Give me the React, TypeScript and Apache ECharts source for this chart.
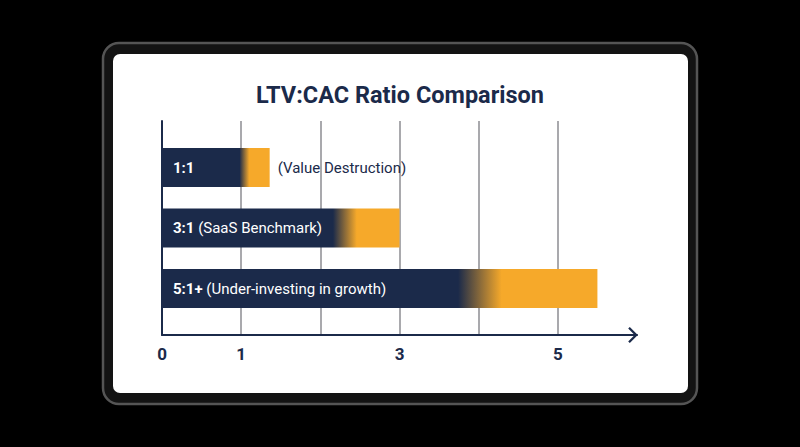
import React, { useEffect, useRef } from "react";
import * as echarts from "echarts";

const categories = ["1:1", "3:1", "5:1+"];
const ratioValues = [1.36, 3, 5.5];
const notes = ["(Value Destruction)", "(SaaS Benchmark)", "(Under-investing in growth)"];
const noteOutside = [true, false, false];
const tickLabels = ["0", "1", "", "3", "", "5", ""];

const NAVY = "#1b2a4a";
const ORANGE = "#f6a92a";
const blendStops = [
  [0.72, 0.81],
  [0.72, 0.82],
  [0.68, 0.78],
];

export default function App() {
  const ref = useRef<HTMLDivElement>(null);
  useEffect(() => {
    if (!ref.current) return;
    const chart = echarts.init(ref.current, null, { renderer: "svg" });
    const barData = ratioValues.map((v, i) => ({
      value: v,
      itemStyle: {
        color: new echarts.graphic.LinearGradient(0, 0, 1, 0, [
          { offset: 0, color: NAVY },
          { offset: blendStops[i][0], color: NAVY },
          { offset: blendStops[i][1], color: ORANGE },
          { offset: 1, color: ORANGE },
        ]),
      },
    }));
    const noteData = ratioValues.map((v, i) => (noteOutside[i] ? v : null));
    chart.setOption({
      animation: false,
      backgroundColor: "#000",
      title: {
        text: "LTV:CAC Ratio Comparison",
        left: "center",
        top: 78,
        textStyle: { fontFamily: "Roboto", fontWeight: "bold", fontSize: 23.5, color: NAVY },
      },
      graphic: [
        {
          type: "rect",
          z: -10,
          shape: { x: 103, y: 43, width: 594, height: 361, r: 16 },
          style: { fill: "#131313", stroke: "#555", lineWidth: 2.5 },
        },
        {
          type: "rect",
          z: -9,
          shape: { x: 113, y: 54, width: 575, height: 339, r: 7 },
          style: { fill: "#fff" },
        },
      ],
      grid: [
        { left: 162, right: 163, top: 121, bottom: 112 },
        { left: 162, right: 163, top: 137.25, bottom: 128.25 },
      ],
      xAxis: [
        {
          gridIndex: 0,
          type: "value",
          min: 0,
          max: 6,
          interval: 1,
          axisLine: {
            show: true,
            symbol: ["none", "path://M0,10 L10,0 L20,10 L18,12 L10,4 L2,12 Z"],
            symbolSize: [16, 10],
            symbolOffset: [0, -4],
            lineStyle: { color: NAVY, width: 2 },
          },
          axisTick: { show: false },
          axisLabel: {
            margin: 10,
            fontFamily: "Roboto",
            fontWeight: "bold",
            fontSize: 17,
            color: NAVY,
            formatter: (v: number) => tickLabels[Math.round(v)] ?? "",
          },
          splitLine: {
            show: true,
            showMinLine: false,
            showMaxLine: false,
            lineStyle: { color: "#8c8c92", width: 1.5 },
          },
        },
        {
          gridIndex: 1,
          type: "value",
          min: 0,
          max: 6,
          show: false,
        },
      ],
      yAxis: [
        {
          gridIndex: 0,
          type: "value",
          min: 0,
          max: 1,
          axisLine: { show: true, lineStyle: { color: NAVY, width: 2 } },
          axisTick: { show: false },
          axisLabel: { show: false },
          splitLine: { show: false },
        },
        {
          gridIndex: 1,
          type: "category",
          data: categories,
          inverse: true,
          show: false,
        },
      ],
      series: [
        {
          type: "bar",
          xAxisIndex: 1,
          yAxisIndex: 1,
          barWidth: 39,
          data: barData,
          z: 3,
          label: {
            show: true,
            position: "insideLeft",
            distance: 11,
            formatter: (p: any) =>
              `{b|${categories[p.dataIndex]}}` +
              (noteOutside[p.dataIndex] ? "" : `{n| ${notes[p.dataIndex]}}`),
            rich: {
              b: { fontFamily: "Roboto", fontWeight: "bold", fontSize: 15, color: "#fff" },
              n: { fontFamily: "Roboto", fontSize: 15, color: "#fff" },
            },
          },
        },
        {
          type: "bar",
          xAxisIndex: 1,
          yAxisIndex: 1,
          barWidth: 39,
          barGap: "-100%",
          data: noteData,
          silent: true,
          z: 2,
          itemStyle: { color: "rgba(0,0,0,0)" },
          label: {
            show: true,
            position: "right",
            distance: 8,
            formatter: (p: any) => notes[p.dataIndex],
            fontFamily: "Roboto",
            fontSize: 15,
            color: NAVY,
          },
        },
      ],
    });
    return () => chart.dispose();
  }, []);
  return (
    <div
      ref={ref}
      style={{ position: "fixed", left: 0, top: 0, width: 800, height: 447, background: "#000" }}
    />
  );
}
